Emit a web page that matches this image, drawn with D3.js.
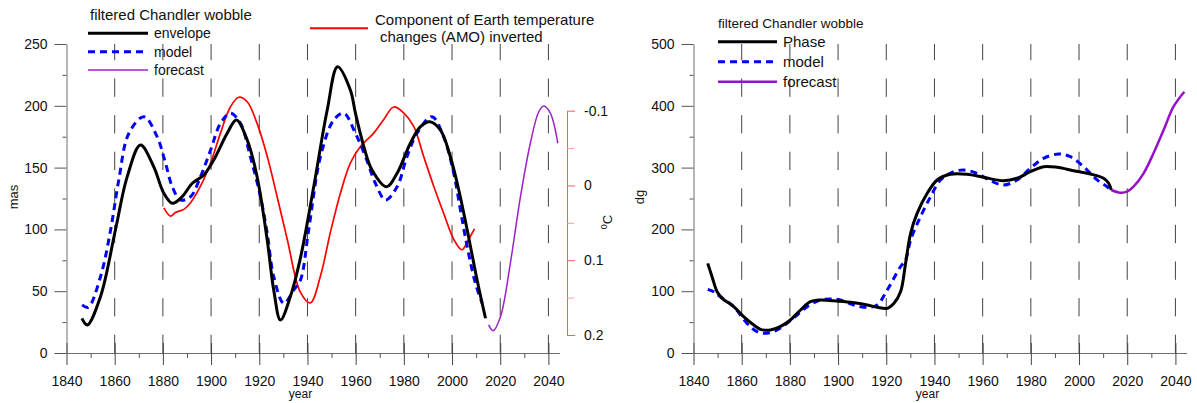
<!DOCTYPE html>
<html><head><meta charset="utf-8">
<script src="https://cdn.jsdelivr.net/npm/d3@7"></script>
<style>
body{margin:0;background:#fff;}
svg{display:block;font-family:"Liberation Sans",Arial,sans-serif;}
</style></head>
<body><svg id="c" width="1197" height="403"></svg>
<script>
// ---------- DATA ----------
// Left panel: amplitude (mas)
const envYears = [1846.4,1848.6,1854.1,1860.3,1865.2,1870.7,1876.2,1880.4,1883.9,1888,1892.2,1897,1901.1,1906.7,1910.5,1915,1919.1,1923.3,1926,1928.8,1932.9,1937.1,1942.6,1948.2,1952.5,1957.8,1959.9,1963.4,1966.8,1972.8,1977.2,1982.7,1986.9,1990.7,1995.2,1999.3,2002.8,2006.3,2010.4,2013.9];
const envVals  = [28,22.7,45.6,99.5,142.7,168.3,150.7,129.2,121.1,126.5,137.3,144,156.1,177.8,188.5,172.3,142.6,91.4,51,26.7,45.6,77,134.5,196.6,231.6,212.8,194,167,148,134.5,145.4,169.7,183.1,187.1,180.4,158.8,131.9,99.5,59.1,28.1];
const modYears = [1846.5,1849,1854.1,1858.3,1861.7,1865.9,1872.1,1877.6,1881.1,1883.9,1887.3,1891.5,1895.6,1899.8,1903.9,1908,1912.2,1916.3,1920.5,1923.3,1926,1930.2,1934.3,1937.1,1940.5,1945.4,1950.9,1955.1,1959.9,1964.1,1968.2,1972.4,1977.2,1981.3,1985.5,1991.7,1996.5,2000.7,2003.5,2006.3,2009.7,2012.5];
const modVals  = [39,37,61.7,99.5,140,177.8,191.2,175,153.5,134.5,123.8,126.5,142.6,164.2,185.8,194,185.8,158.8,126.5,96.8,61.7,40.2,51,59.1,99.5,158.8,188.5,194,177.8,158.8,137.3,123.8,134.5,158.8,177.8,191.2,175,145.4,115.7,86,56.4,40.2];
const fcYears  = [2015.2,2017,2020.1,2024.2,2028.4,2032.5,2036,2038.1,2040.8,2043.9];
const fcVals   = [22.7,18,29.4,72.6,126.5,169.7,195.2,199.8,194,169.7];
// AMO inverted (deg C)
const amoYears = [1880.4,1883.2,1885.2,1888.7,1891.5,1895.6,1899.8,1903.9,1908,1911.5,1915,1919.1,1923.3,1927.4,1931.6,1937.1,1941.2,1945.4,1949.5,1953.7,1957.8,1962,1967.5,1971.6,1975.8,1979.9,1984.1,1988.2,1992.4,1996.5,2000.7,2004.1,2006.9,2009.3];
const amoVals  = [0.030,0.041,0.036,0.032,0.023,0.001,-0.030,-0.070,-0.105,-0.118,-0.112,-0.083,-0.039,0.015,0.072,0.143,0.157,0.121,0.063,0.010,-0.030,-0.052,-0.070,-0.088,-0.105,-0.097,-0.079,-0.039,0.001,0.037,0.072,0.086,0.072,0.058];
// Right panel: phase (dg)
const phYears = [1845.9,1847.7,1849.8,1851.9,1856.7,1860.8,1865,1867.8,1871.9,1876,1880.2,1884.4,1888.5,1892.7,1898.2,1905.3,1912.2,1916.3,1920.5,1923.2,1926,1928,1930.1,1932.8,1937,1941.1,1946.6,1953.5,1960.4,1968.7,1974.3,1979.8,1985.3,1990.9,1997.8,2004.7,2010.2,2012.3,2013.4];
const phVals  = [145,123.5,99.2,88.5,75,58.7,45.3,38.3,37.2,42.6,53.4,69.6,83,85.8,84.6,82,77.7,73.9,72.3,80.4,100,145,193.7,226,258.4,280,289.2,289.2,284.3,278.8,282.7,293.4,301.5,300.5,295,289.6,282.7,274.6,263.8];
const pmYears = [1845.9,1848.4,1851.2,1856.7,1862.2,1866.4,1870.5,1874.7,1878.8,1883,1887.2,1892.7,1896.8,1901,1906.5,1912,1916.2,1920.4,1925.9,1928,1930.1,1934.2,1938.4,1942.5,1948,1952.2,1957.7,1963.2,1968.7,1974.3,1979.8,1985.3,1991.6,1996.4,2001.9,2007.5,2011.6,2013.3];
const pmVals  = [103,99.2,91.1,75,48,34.5,31.9,37.2,48,61.5,75,85.8,87.4,85.8,77.7,73.9,77.7,102,139.6,150.5,182.8,220.6,253,280,293.4,296,290.8,278.8,271.8,280,298.9,315,322,317.6,301.5,280,269.1,262.6];
const pfYears = [2013.4,2017.1,2019.9,2022.6,2026.8,2030.9,2035.1,2039.2,2043.7];
const pfVals  = [263.8,259.4,261,269.1,290.8,323.1,360.8,398.5,422.8];
// Ticks
const xTicks = [1840,1860,1880,1900,1920,1940,1960,1980,2000,2020,2040];
const xMinor = [1850,1870,1890,1910,1930,1950,1970,1990,2010,2030];
const yLTicks = [0,50,100,150,200,250];
const yLMinor = [25,75,125,175,225];
const yRTicks = [0,100,200,300,400,500];
const yRMinor = [50,150,250,350,450];
const tTicks = [-0.1,0,0.1,0.2];
const tLabels = ["-0.1","0","0.1","0.2"];
const tMinor = [-0.05,0.05,0.15];
const gridYears = [1860,1880,1900,1920,1940,1960,1980,2000,2020,2040];

// ---------- DRAW ----------
const svg = d3.select("#c");
const yTop = 44, yBot = 353;
const axisCol = "#6e6e6e";

function panel(x0, yMax, yTicks, yMinor) {
  const x = d3.scaleLinear().domain([1840, 2044.6]).range([x0, x0 + 493]);
  const y = d3.scaleLinear().domain([0, yMax]).range([yBot, yTop]);
  const g = svg.append("g");
  // grid
  g.selectAll("line.grid").data(gridYears).join("line")
    .attr("x1", d => x(d)).attr("x2", d => x(d))
    .attr("y1", yBot).attr("y2", yTop)
    .attr("stroke", "#444").attr("stroke-width", 1)
    .attr("stroke-dasharray", "18.3 18.3");
  // x axis
  const xa = g.append("g").attr("transform", `translate(0,${yBot})`)
    .call(d3.axisBottom(x).tickValues(xTicks).tickFormat(d3.format("d")).tickSize(12).tickSizeOuter(0).tickPadding(11));
  xa.select(".domain").attr("stroke", axisCol);
  xa.selectAll(".tick line").attr("y1", -10).attr("stroke", "#444");
  xa.selectAll("text").attr("font-size", 14).attr("fill", "#111").attr("font-family", "Liberation Sans, Arial");
  const xm = g.append("g").attr("transform", `translate(0,${yBot})`)
    .call(d3.axisBottom(x).tickValues(xMinor).tickFormat("").tickSize(5).tickSizeOuter(0));
  xm.select(".domain").remove();
  xm.selectAll(".tick line").attr("stroke", "#555");
  // y axis
  const ya = g.append("g").attr("transform", `translate(${x0},0)`)
    .call(d3.axisLeft(y).tickValues(yTicks).tickSize(12).tickSizeOuter(0).tickPadding(7));
  ya.select(".domain").attr("stroke", axisCol);
  ya.selectAll(".tick line").attr("stroke", "#555");
  ya.selectAll("text").attr("font-size", 14).attr("fill", "#111").attr("font-family", "Liberation Sans, Arial");
  const ym = g.append("g").attr("transform", `translate(${x0},0)`)
    .call(d3.axisLeft(y).tickValues(yMinor).tickFormat("").tickSize(4).tickSizeOuter(0));
  ym.select(".domain").remove();
  ym.selectAll(".tick line").attr("stroke", "#555");
  // year label
  g.append("text").attr("x", x0 + 234).attr("y", 398).attr("text-anchor", "middle")
    .attr("font-size", 12).attr("fill", "#111").text("year");
  return {x, y, g};
}

function drawLine(p, xs, ys, yScale, color, width, dash) {
  const data = xs.map((d, i) => [d, ys[i]]);
  const path = p.g.append("path").datum(data)
    .attr("fill", "none").attr("stroke", color).attr("stroke-width", width)
    .attr("stroke-linejoin", "round")
    .attr("d", d3.line().x(d => p.x(d[0])).y(d => yScale(d[1])).curve(d3.curveCatmullRom.alpha(0.5)));
  if (dash) path.attr("stroke-dasharray", dash);
  return path;
}

// ----- Left panel -----
const L = panel(66.5, 250, yLTicks, yLMinor);
const yT = d3.scaleLinear().domain([-0.1, 0.2]).range([110.7, 335]);
// temperature axis
const ta = L.g.append("g").attr("transform", "translate(567,0)")
  .call(d3.axisRight(yT).tickValues(tTicks).tickFormat((d, i) => tLabels[i]).tickSize(8).tickSizeOuter(0).tickPadding(9));
ta.select(".domain").attr("stroke", "#ff5a5a");
ta.selectAll(".tick line").attr("stroke", "#ff5a5a");
ta.selectAll("text").attr("font-size", 14).attr("fill", "#111").attr("font-family", "Liberation Sans, Arial");
const tm = L.g.append("g").attr("transform", "translate(567,0)")
  .call(d3.axisRight(yT).tickValues(tMinor).tickFormat("").tickSize(7).tickSizeOuter(0));
tm.select(".domain").remove();
tm.selectAll(".tick line").attr("stroke", "#ff9a9a");

drawLine(L, amoYears, amoVals, yT, "#ff0000", 1.7);
drawLine(L, modYears, modVals, L.y, "#0000ff", 3, "7 5");
drawLine(L, envYears, envVals, L.y, "#000", 3);
drawLine(L, fcYears, fcVals, L.y, "#a020c8", 1.5);

// axis titles
L.g.append("text").attr("transform", "translate(18,197) rotate(-90)").attr("text-anchor", "middle")
  .attr("font-size", 13).attr("fill", "#111").text("mas");
const ct = L.g.append("text").attr("transform", "translate(612,222) rotate(-90)").attr("text-anchor", "middle")
  .attr("font-size", 13).attr("fill", "#111");
ct.append("tspan").attr("font-size", 9).attr("dy", -5).text("0");
ct.append("tspan").attr("dy", 5).text("C");

// left legend
L.g.append("text").attr("x", 90).attr("y", 20).attr("font-size", 15).attr("fill", "#111").text("filtered Chandler wobble");
const legL = [
  {y: 33.3, c: "#000", w: 3, d: null, x2: 148, t: "envelope"},
  {y: 51.7, c: "#0000ff", w: 3, d: "7 5", x2: 145, t: "model"},
  {y: 70, c: "#a020c8", w: 1.5, d: null, x2: 148, t: "forecast"}
];
legL.forEach(e => {
  const l = L.g.append("line").attr("x1", 88).attr("x2", e.x2).attr("y1", e.y).attr("y2", e.y)
    .attr("stroke", e.c).attr("stroke-width", e.w);
  if (e.d) l.attr("stroke-dasharray", e.d);
  L.g.append("text").attr("x", 154).attr("y", e.y).attr("dy", "0.35em").attr("font-size", 14).attr("fill", "#111").text(e.t);
});
L.g.append("line").attr("x1", 310).attr("x2", 368).attr("y1", 28.3).attr("y2", 28.3).attr("stroke", "#ff0000").attr("stroke-width", 2);
L.g.append("text").attr("x", 375).attr("y", 20).attr("dy", "0.35em").attr("font-size", 15).attr("fill", "#111").text("Component of Earth temperature");
L.g.append("text").attr("x", 380).attr("y", 36.7).attr("dy", "0.35em").attr("font-size", 15).attr("fill", "#111").text("changes (AMO) inverted");

// ----- Right panel -----
const R = panel(693.5, 500, yRTicks, yRMinor);
drawLine(R, pmYears, pmVals, R.y, "#0000ff", 3, "7 5");
drawLine(R, phYears, phVals, R.y, "#000", 3);
drawLine(R, pfYears, pfVals, R.y, "#9a10c8", 2.5);
R.g.append("text").attr("transform", "translate(644,197) rotate(-90)").attr("text-anchor", "middle")
  .attr("font-size", 13).attr("fill", "#111").text("dg");
R.g.append("text").attr("x", 718).attr("y", 27.5).attr("font-size", 13.5).attr("fill", "#111").text("filtered Chandler wobble");
const legR = [
  {y: 41.7, c: "#000", w: 3, d: null, x2: 777, t: "Phase"},
  {y: 61.7, c: "#0000ff", w: 3, d: "7 5", x2: 773, t: "model"},
  {y: 81.7, c: "#9a10c8", w: 2.5, d: null, x2: 777, t: "forecast"}
];
legR.forEach(e => {
  const l = R.g.append("line").attr("x1", 718).attr("x2", e.x2).attr("y1", e.y).attr("y2", e.y)
    .attr("stroke", e.c).attr("stroke-width", e.w);
  if (e.d) l.attr("stroke-dasharray", e.d);
  R.g.append("text").attr("x", 783).attr("y", e.y).attr("dy", "0.35em").attr("font-size", 15).attr("fill", "#111").text(e.t);
});
</script></body></html>
